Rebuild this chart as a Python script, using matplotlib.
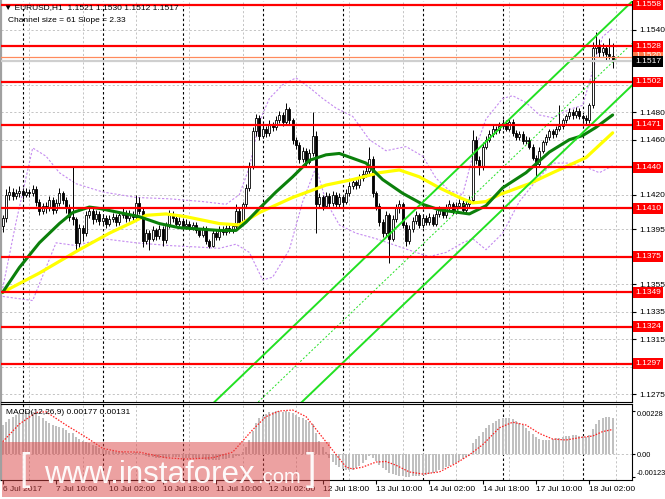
import matplotlib
matplotlib.use('Agg')
import matplotlib.pyplot as plt
import matplotlib.transforms as mtransforms
from matplotlib.patches import Rectangle
import numpy as np

plt.rcParams['font.family'] = ['Liberation Sans', 'DejaVu Sans']
plt.rcParams['axes.unicode_minus'] = False

# ---------------- data (EURUSD H1) ----------------
opens = [
    1.1397, 1.1403, 1.1420, 1.1422, 1.1419, 1.1421, 1.1423, 1.1420, 1.1422, 1.1421,
    1.1424, 1.1415, 1.1408, 1.1412, 1.1410, 1.1416, 1.1409, 1.1414, 1.1421, 1.1416,
    1.1410, 1.1404, 1.1402, 1.1385, 1.1396, 1.1392, 1.1405, 1.1408, 1.1402, 1.1406,
    1.1401, 1.1403, 1.1399, 1.1402, 1.1404, 1.1400, 1.1405, 1.1407, 1.1403, 1.1406,
    1.1404, 1.1414, 1.1408, 1.1386, 1.1392, 1.1388, 1.1394, 1.1390, 1.1395, 1.1387,
    1.1398, 1.1406, 1.1403, 1.1399, 1.1401, 1.1397, 1.1399, 1.1396, 1.1398, 1.1394,
    1.1391, 1.1395, 1.1386, 1.1383, 1.1392, 1.1389, 1.1395, 1.1393, 1.1396, 1.1394,
    1.1397, 1.1408, 1.1400, 1.1413, 1.1425, 1.1441, 1.1466, 1.1476, 1.1463, 1.1468,
    1.1465, 1.1471, 1.1469, 1.1474, 1.1478, 1.1473, 1.1482, 1.1474, 1.1460, 1.1456,
    1.1446, 1.1452, 1.1444, 1.1450, 1.1463, 1.1413, 1.1418, 1.1412, 1.1419, 1.1414,
    1.1420, 1.1413, 1.1418, 1.1415, 1.1421, 1.1426, 1.1429, 1.1427, 1.1432, 1.1435,
    1.1437, 1.1446, 1.1421, 1.1412, 1.1400, 1.1392, 1.1405, 1.1388, 1.1402, 1.1410,
    1.1413, 1.1398, 1.1386, 1.1395, 1.1401, 1.1405, 1.1398, 1.1403, 1.1400, 1.1404,
    1.1399, 1.1406, 1.1409, 1.1405, 1.1410, 1.1413, 1.1408, 1.1412, 1.1414, 1.1409,
    1.1413, 1.1416, 1.1460, 1.1445, 1.1440, 1.1455, 1.1460, 1.1464, 1.1468, 1.1467,
    1.1470, 1.1472, 1.1468, 1.1473, 1.1465, 1.1462, 1.1464, 1.1459, 1.1460, 1.1455,
    1.1447, 1.1442, 1.1452, 1.1458, 1.1462, 1.1466, 1.1464, 1.1468, 1.1470, 1.1474,
    1.1477, 1.1480, 1.1478, 1.1481, 1.1477, 1.1476, 1.1474, 1.1485, 1.1527, 1.1529,
    1.1524, 1.1527, 1.1522, 1.1521,
]
highs = [
    1.1405, 1.1424, 1.1426, 1.1425, 1.1424, 1.1426, 1.1425, 1.1425, 1.1424, 1.1427,
    1.1426, 1.1417, 1.1414, 1.1415, 1.1419, 1.1418, 1.1417, 1.1425, 1.1423, 1.1418,
    1.1413, 1.1440, 1.1404, 1.1399, 1.1398, 1.1408, 1.1411, 1.1410, 1.1409, 1.1408,
    1.1406, 1.1405, 1.1405, 1.1407, 1.1406, 1.1408, 1.1410, 1.1409, 1.1409, 1.1408,
    1.1420, 1.1418, 1.1410, 1.1395, 1.1394, 1.1397, 1.1396, 1.1398, 1.1397, 1.1400,
    1.1409, 1.1408, 1.1405, 1.1404, 1.1403, 1.1402, 1.1401, 1.1400, 1.1400, 1.1396,
    1.1397, 1.1397, 1.1388, 1.1394, 1.1394, 1.1397, 1.1397, 1.1398, 1.1398, 1.1399,
    1.1413, 1.1410, 1.1415, 1.1428, 1.1444, 1.1469, 1.1479, 1.1478, 1.1471, 1.1470,
    1.1474, 1.1473, 1.1477, 1.1481, 1.1480, 1.1487, 1.1484, 1.1476, 1.1462, 1.1458,
    1.1455, 1.1454, 1.1453, 1.1480, 1.1466, 1.1421, 1.1420, 1.1422, 1.1421, 1.1423,
    1.1422, 1.1421, 1.1420, 1.1424, 1.1429, 1.1432, 1.1431, 1.1435, 1.1438, 1.1440,
    1.1455, 1.1448, 1.1423, 1.1414, 1.1402, 1.1408, 1.1407, 1.1405, 1.1413, 1.1416,
    1.1415, 1.1400, 1.1398, 1.1404, 1.1408, 1.1407, 1.1406, 1.1405, 1.1407, 1.1406,
    1.1409, 1.1412, 1.1411, 1.1413, 1.1416, 1.1415, 1.1415, 1.1417, 1.1416, 1.1416,
    1.1419, 1.1467, 1.1463, 1.1448, 1.1458, 1.1463, 1.1467, 1.1471, 1.1470, 1.1473,
    1.1475, 1.1474, 1.1476, 1.1475, 1.1467, 1.1466, 1.1466, 1.1463, 1.1462, 1.1457,
    1.1449, 1.1455, 1.1460, 1.1464, 1.1468, 1.1468, 1.1470, 1.1485, 1.1476, 1.1479,
    1.1483, 1.1482, 1.1484, 1.1483, 1.1479, 1.1478, 1.1487, 1.1531, 1.1538, 1.1533,
    1.1530, 1.1529, 1.1534, 1.1530,
]
lows = [
    1.1393, 1.1400, 1.1416, 1.1416, 1.1417, 1.1418, 1.1417, 1.1418, 1.1418, 1.1419,
    1.1412, 1.1405, 1.1406, 1.1407, 1.1408, 1.1406, 1.1407, 1.1412, 1.1413, 1.1407,
    1.1401, 1.1398, 1.1378, 1.1382, 1.1386, 1.1390, 1.1403, 1.1399, 1.1400, 1.1398,
    1.1399, 1.1396, 1.1397, 1.1400, 1.1397, 1.1398, 1.1403, 1.1400, 1.1401, 1.1401,
    1.1402, 1.1406, 1.1382, 1.1384, 1.1380, 1.1386, 1.1387, 1.1388, 1.1383, 1.1385,
    1.1396, 1.1400, 1.1397, 1.1397, 1.1395, 1.1395, 1.1394, 1.1394, 1.1392, 1.1389,
    1.1389, 1.1384, 1.1381, 1.1382, 1.1387, 1.1387, 1.1391, 1.1391, 1.1392, 1.1392,
    1.1395, 1.1398, 1.1398, 1.1411, 1.1423, 1.1439, 1.1463, 1.1460, 1.1461, 1.1462,
    1.1463, 1.1466, 1.1467, 1.1472, 1.1470, 1.1471, 1.1471, 1.1457, 1.1453, 1.1443,
    1.1444, 1.1441, 1.1442, 1.1448, 1.1392, 1.1410, 1.1409, 1.1410, 1.1411, 1.1412,
    1.1410, 1.1411, 1.1412, 1.1413, 1.1419, 1.1424, 1.1424, 1.1425, 1.1430, 1.1433,
    1.1435, 1.1418, 1.1409, 1.1397, 1.1389, 1.1390, 1.1370, 1.1386, 1.1400, 1.1407,
    1.1396, 1.1383, 1.1384, 1.1393, 1.1399, 1.1396, 1.1396, 1.1398, 1.1398, 1.1397,
    1.1397, 1.1404, 1.1403, 1.1403, 1.1408, 1.1406, 1.1406, 1.1410, 1.1407, 1.1407,
    1.1411, 1.1414, 1.1442, 1.1434, 1.1438, 1.1453, 1.1458, 1.1462, 1.1464, 1.1465,
    1.1468, 1.1466, 1.1466, 1.1463, 1.1460, 1.1460, 1.1457, 1.1457, 1.1453, 1.1445,
    1.1433, 1.1440, 1.1450, 1.1456, 1.1460, 1.1461, 1.1462, 1.1466, 1.1468, 1.1472,
    1.1475, 1.1475, 1.1476, 1.1475, 1.1473, 1.1471, 1.1472, 1.1483, 1.1522, 1.1520,
    1.1521, 1.1518, 1.1519, 1.1512,
]
closes = [
    1.1403, 1.1420, 1.1422, 1.1419, 1.1421, 1.1423, 1.1420, 1.1422, 1.1421, 1.1424,
    1.1415, 1.1408, 1.1412, 1.1410, 1.1416, 1.1409, 1.1414, 1.1421, 1.1416, 1.1410,
    1.1404, 1.1402, 1.1385, 1.1396, 1.1392, 1.1405, 1.1408, 1.1402, 1.1406, 1.1401,
    1.1403, 1.1399, 1.1402, 1.1404, 1.1400, 1.1405, 1.1407, 1.1403, 1.1406, 1.1404,
    1.1414, 1.1408, 1.1386, 1.1392, 1.1388, 1.1394, 1.1390, 1.1395, 1.1387, 1.1398,
    1.1406, 1.1403, 1.1399, 1.1401, 1.1397, 1.1399, 1.1396, 1.1398, 1.1394, 1.1391,
    1.1395, 1.1386, 1.1383, 1.1392, 1.1389, 1.1395, 1.1393, 1.1396, 1.1394, 1.1397,
    1.1408, 1.1400, 1.1413, 1.1425, 1.1441, 1.1466, 1.1476, 1.1463, 1.1468, 1.1465,
    1.1471, 1.1469, 1.1474, 1.1478, 1.1473, 1.1482, 1.1474, 1.1460, 1.1456, 1.1446,
    1.1452, 1.1444, 1.1450, 1.1463, 1.1413, 1.1418, 1.1412, 1.1419, 1.1414, 1.1420,
    1.1413, 1.1418, 1.1415, 1.1421, 1.1426, 1.1429, 1.1427, 1.1432, 1.1435, 1.1437,
    1.1446, 1.1421, 1.1412, 1.1400, 1.1392, 1.1405, 1.1388, 1.1402, 1.1410, 1.1413,
    1.1398, 1.1386, 1.1395, 1.1401, 1.1405, 1.1398, 1.1403, 1.1400, 1.1404, 1.1399,
    1.1406, 1.1409, 1.1405, 1.1410, 1.1413, 1.1408, 1.1412, 1.1414, 1.1409, 1.1413,
    1.1416, 1.1460, 1.1445, 1.1440, 1.1455, 1.1460, 1.1464, 1.1468, 1.1467, 1.1470,
    1.1472, 1.1468, 1.1473, 1.1465, 1.1462, 1.1464, 1.1459, 1.1460, 1.1455, 1.1447,
    1.1442, 1.1452, 1.1458, 1.1462, 1.1466, 1.1464, 1.1468, 1.1470, 1.1474, 1.1477,
    1.1480, 1.1478, 1.1481, 1.1477, 1.1476, 1.1474, 1.1485, 1.1527, 1.1529, 1.1524,
    1.1527, 1.1522, 1.1521, 1.1517,
]

# moving averages (read at sample bars)
green_ma_bars = [0, 5, 11, 17, 21, 26, 29, 35, 41, 47, 53, 59, 65, 70, 73, 77, 82, 87, 92,
                 97, 101, 109, 114, 120, 126, 131, 137, 140, 145, 150, 157, 164, 170, 174, 178, 183]
green_ma_vals = [1.1349, 1.1367, 1.1385, 1.1399, 1.1407, 1.1411, 1.1410, 1.1407, 1.1404, 1.1399,
                 1.1396, 1.1395, 1.1394, 1.1394, 1.1400, 1.1410, 1.1422, 1.1433, 1.1445,
                 1.1449, 1.1450, 1.1443, 1.1431, 1.1421, 1.1413, 1.1409, 1.1407, 1.1406, 1.1412,
                 1.1425, 1.1436, 1.1451, 1.1460, 1.1463, 1.1469, 1.1478]
yellow_ma_bars = [0, 11, 23, 32, 39, 43, 49, 55, 65, 71, 77, 87, 97, 105, 113, 119, 125, 131,
                  137, 141, 145, 149, 158, 165, 175, 183]
yellow_ma_vals = [1.1349, 1.1363, 1.1380, 1.1392, 1.1400, 1.1405, 1.1406, 1.1404, 1.1399, 1.1398,
                  1.1407, 1.1418, 1.1427, 1.1431, 1.1436, 1.1438, 1.1433, 1.1425, 1.1418, 1.1414,
                  1.1415, 1.1420, 1.1428, 1.1436, 1.1447, 1.1465]

# Bollinger bands (read at sample bars)
bb_up_bars = [0, 4, 9, 13, 17, 22, 30, 40, 50, 60, 67, 71, 74, 77, 80, 84, 88, 92, 96, 100,
              105, 110, 115, 121, 126, 130, 134, 138, 141, 145, 150, 153, 157, 161, 165, 170,
              174, 177, 180, 183]
bb_up_vals = [1.1352, 1.1400, 1.1454, 1.1448, 1.1436, 1.1428, 1.1422, 1.1418, 1.1417, 1.1415,
              1.1413, 1.1420, 1.1440, 1.1473, 1.1490, 1.1500, 1.1505, 1.1498, 1.1490, 1.1483,
              1.1477, 1.1460, 1.1452, 1.1455, 1.1448, 1.1432, 1.1423, 1.1420, 1.1448, 1.1475,
              1.1490, 1.1492, 1.1487, 1.1478, 1.1476, 1.1482, 1.1485, 1.1510, 1.1535, 1.1541]
bb_lo_bars = [0, 9, 16, 22, 30, 40, 50, 58, 65, 70, 74, 78, 81, 86, 90, 94, 97, 101, 106, 112,
              118, 124, 128, 133, 138, 141, 145, 150, 155, 160, 165, 170, 175, 179, 183]
bb_lo_vals = [1.1346, 1.1343, 1.1385, 1.1383, 1.1388, 1.1385, 1.1383, 1.1382, 1.1381, 1.1384,
              1.1378, 1.1358, 1.1360, 1.1380, 1.1415, 1.1440, 1.1415, 1.1398, 1.1392, 1.1388,
              1.1383, 1.1378, 1.1375, 1.1378, 1.1385, 1.1388, 1.1380, 1.1392, 1.1415, 1.1430,
              1.1443, 1.1443, 1.1440, 1.1436, 1.1441]

# equidistant channel: lower line anchors, width in price
channel_bars = [100, 183]
channel_lower = [1.1293, 1.1486]
channel_width = 0.0061

# horizontal support / resistance levels
levels = [1.1558, 1.1528, 1.1502, 1.1471, 1.1440, 1.1410, 1.1375, 1.1349, 1.1324, 1.1297]
last_price = 1.1517
ask_price = 1.1520

price_ticks = [1.1540, 1.1520, 1.1500, 1.1480, 1.1460, 1.1440, 1.1420, 1.1395, 1.1375,
               1.1355, 1.1335, 1.1315, 1.1295, 1.1275]
hidden_tick_labels = [1.1520, 1.1500, 1.1440, 1.1375, 1.1295]

# MACD histogram (one per bar) and signal (sample bars)
macd_hist = [
    0.00155, 0.00172, 0.00188, 0.00200, 0.00210, 0.00218, 0.00224, 0.00228, 0.00228, 0.00224,
    0.00215, 0.00202, 0.00190, 0.00178, 0.00166, 0.00156, 0.00148, 0.00142, 0.00138, 0.00128,
    0.00115, 0.00110, 0.00092, 0.00082, 0.00072, 0.00066, 0.00060, 0.00050, 0.00042, 0.00034,
    0.00026, 0.00020, 0.00016, 0.00014, 0.00012, 0.00010, 0.00010, 0.00008, 0.00008, 0.00006,
    0.00010, 0.00008, -0.00004, -0.00008, -0.00014, -0.00016, -0.00020, -0.00020, -0.00024, -0.00020,
    -0.00016, -0.00016, -0.00018, -0.00018, -0.00020, -0.00020, -0.00022, -0.00022, -0.00024, -0.00026,
    -0.00026, -0.00030, -0.00034, -0.00032, -0.00032, -0.00030, -0.00028, -0.00026, -0.00024, -0.00020,
    -0.00010, -0.00008, 0.00010, 0.00040, 0.00075, 0.00125, 0.00166, 0.00190, 0.00205, 0.00216,
    0.00222, 0.00226, 0.00228, 0.00228, 0.00227, 0.00228, 0.00225, 0.00218, 0.00210, 0.00200,
    0.00190, 0.00180, 0.00170, 0.00162, 0.00110, 0.00072, 0.00040, 0.00010, -0.00020, -0.00045,
    -0.00060, -0.00072, -0.00080, -0.00086, -0.00088, -0.00085, -0.00076, -0.00062, -0.00048, -0.00032,
    -0.00012, -0.00020, -0.00040, -0.00058, -0.00075, -0.00088, -0.00100, -0.00108, -0.00112, -0.00116,
    -0.00120, -0.00123, -0.00122, -0.00120, -0.00118, -0.00116, -0.00114, -0.00110, -0.00106, -0.00100,
    -0.00094, -0.00086, -0.00078, -0.00070, -0.00062, -0.00054, -0.00046, -0.00036, -0.00028, -0.00018,
    -0.00008, 0.00060, 0.00080, 0.00095, 0.00120, 0.00140, 0.00155, 0.00168, 0.00178, 0.00185,
    0.00190, 0.00192, 0.00194, 0.00188, 0.00178, 0.00168, 0.00155, 0.00140, 0.00125, 0.00108,
    0.00090, 0.00080, 0.00075, 0.00074, 0.00076, 0.00080, 0.00084, 0.00088, 0.00090, 0.00094,
    0.00098, 0.00100, 0.00100, 0.00096, 0.00094, 0.00092, 0.00100, 0.00135, 0.00160, 0.00180,
    0.00192, 0.00200, 0.00198, 0.00190,
]
signal_bars = [0, 5, 10, 13, 19, 25, 30, 35, 41, 49, 55, 63, 69, 75, 79, 83, 87, 91, 95, 99,
               103, 105, 108, 112, 115, 118, 122, 126, 131, 136, 140, 144, 149, 153, 157, 161,
               165, 169, 174, 177, 180, 183]
signal_vals = [0.00066, 0.00160, 0.00222, 0.00226, 0.00155, 0.00090, 0.00030, 0.00012, 0.00010,
               -0.00020, -0.00027, -0.00020, 0.00010, 0.00130, 0.00200, 0.00230, 0.00235, 0.00200,
               0.00110, 0.00020, -0.00070, -0.00080, -0.00070, -0.00043, -0.00040, -0.00060,
               -0.00096, -0.00107, -0.00096, -0.00050, -0.00005, 0.00050, 0.00140, 0.00170,
               0.00155, 0.00110, 0.00080, 0.00075, 0.00090, 0.00096, 0.00120, 0.00131]

x_label_bars = [0, 16, 32, 48, 64, 80, 96, 112, 128, 144, 160, 176]
x_labels = ['6 Jul 2017', '7 Jul 10:00', '10 Jul 02:00', '10 Jul 18:00', '11 Jul 10:00',
            '12 Jul 02:00', '12 Jul 18:00', '13 Jul 10:00', '14 Jul 02:00', '14 Jul 18:00',
            '17 Jul 10:00', '18 Jul 02:00']
day_separator_bars = [6, 30, 54, 78, 102, 126, 150, 174]

# ---------------- figure ----------------
W, H = 665, 499
fig = plt.figure(figsize=(W / 100, H / 100), dpi=100)
fig.patch.set_facecolor('white')


def fx(px):
    return px / W


def fy(py):
    return 1 - py / H


ax = fig.add_axes([fx(1), fy(402), fx(632) - fx(1), fy(1) - fy(402)])
ax2 = fig.add_axes([fx(1), fy(480), fx(632) - fx(1), fy(404) - fy(480)], sharex=ax)

n = len(closes)
xb = np.arange(n)
o = np.array(opens)
h = np.array(highs)
l = np.array(lows)
c = np.array(closes)

GRID = '#c4c4c4'
dash = (0, (2.2, 2.2))
FS = 6

for a in (ax, ax2):
    a.set_facecolor('white')
    a.set_xlim(-0.51, 188.8)
    a.set_xticks(np.arange(0, 189, 8), minor=True)
    a.grid(which='minor', axis='x', color=GRID, linestyle=dash, linewidth=0.7, zorder=0)
    for b in day_separator_bars:
        a.axvline(b, color='black', linestyle=dash, linewidth=0.8, zorder=1)
    a.spines['top'].set_visible(False)
    a.spines['left'].set_color('#a0a0a0')
    a.spines['left'].set_linewidth(1.6)
    a.spines['right'].set_color('black')
    a.spines['bottom'].set_color('black')

# ---- main price panel ----
ax.set_ylim(1.12692, 1.15609)
ax.set_yticks(price_ticks)
ax.yaxis.tick_right()
ax.set_yticklabels(['' if v in hidden_tick_labels else '%.4f' % v for v in price_ticks])
ax.tick_params(axis='y', which='major', labelsize=FS, length=3, pad=2, colors='black',
               direction='out')
ax.grid(which='major', axis='y', color=GRID, linestyle=dash, linewidth=0.7, zorder=0)
ax.tick_params(axis='x', which='both', length=0, labelbottom=False)

# Bollinger bands
ax.plot(bb_up_bars, bb_up_vals, color='#c58bf0', linestyle=(0, (2, 1.6)), linewidth=0.8, zorder=2)
ax.plot(bb_lo_bars, bb_lo_vals, color='#c58bf0', linestyle=(0, (2, 1.6)), linewidth=0.8, zorder=2)

# candles
ax.vlines(xb, l, h, color='black', linewidth=0.7, zorder=3)
up = c >= o
ax.bar(xb[up], (c - o)[up], bottom=o[up], width=0.62, color='white', edgecolor='black',
       linewidth=0.6, zorder=4)
ax.bar(xb[~up], (c - o)[~up], bottom=o[~up], width=0.62, color='black', edgecolor='black',
       linewidth=0.6, zorder=4)

# moving averages
ax.plot(yellow_ma_bars, yellow_ma_vals, color='#ffff00', linewidth=2.3, zorder=5,
        solid_capstyle='round')
ax.plot(green_ma_bars, green_ma_vals, color='#0b800b', linewidth=2.2, zorder=5,
        solid_capstyle='round')

# channel
p0 = (channel_bars[0], channel_lower[0])
p1 = (channel_bars[1], channel_lower[1])
ax.axline(p0, p1, color='#22e022', linewidth=1.4, zorder=6)
ax.axline((p0[0], p0[1] + channel_width), (p1[0], p1[1] + channel_width),
          color='#22e022', linewidth=1.4, zorder=6)
ax.axline((p0[0], p0[1] + channel_width / 2), (p1[0], p1[1] + channel_width / 2),
          color='#22e022', linewidth=0.7, linestyle=(0, (2, 2)), zorder=6)

# current price lines
ax.axhline(last_price, color='#cfcfcf', linewidth=1.6, zorder=6)
ax.axhline(ask_price, color='#ff8a5c', linewidth=0.9, zorder=6)

# red levels
for lv in levels:
    ax.axhline(lv, color='#ff0000', linewidth=1.6, zorder=7)

trans = mtransforms.blended_transform_factory(ax.transAxes, ax.transData)
lab_x = 1.0 + 3.0 / 631
box = 'square,pad=0.22'
ax.text(lab_x, ask_price + 0.00012, '%.4f' % ask_price, transform=trans, ha='left',
        va='center', color='white', fontsize=FS, zorder=20, clip_on=False,
        bbox=dict(boxstyle=box, fc='#ff7a4a', ec='none'))
ax.text(lab_x, last_price, '%.4f' % last_price, transform=trans, ha='left', va='center',
        color='white', fontsize=FS, zorder=21, clip_on=False,
        bbox=dict(boxstyle=box, fc='black', ec='none'))
for lv in levels:
    ax.text(lab_x, lv, '%.4f' % lv, transform=trans, ha='left', va='center',
            color='white', fontsize=FS, zorder=22, clip_on=False,
            bbox=dict(boxstyle=box, fc='#ff0000', ec='none'))

# ---- MACD panel ----
ax2.set_ylim(-0.00139, 0.002674)
ax2.bar(xb, macd_hist, width=0.62, color='#c0c0c0', edgecolor='none', zorder=2)
ax2.plot(signal_bars, signal_vals, color='#ff2020', linestyle=(0, (1.2, 1.2)),
         linewidth=0.9, zorder=3)
ax2.axhline(0, color=GRID, linestyle=dash, linewidth=0.7, zorder=1)
ax2.yaxis.tick_right()
ax2.set_yticks([0.00228, 0.0, -0.00123])
ax2.set_yticklabels(['0.00228', '0.00', '-0.00123'])
ax2.tick_params(axis='y', labelsize=5.3, length=2.5, pad=1.2, colors='black')
ax2.get_yticklabels()[0].set_va('top')
ax2.get_yticklabels()[2].set_va('bottom')
ax2.spines['top'].set_visible(True)
ax2.spines['top'].set_color('black')
ax2.set_xticks(x_label_bars)
ax2.set_xticklabels(x_labels, ha='left')
ax2.tick_params(axis='x', which='major', labelsize=FS, length=3, pad=1.5, colors='black')
ax2.tick_params(axis='x', which='minor', length=0)
ax2.text(0.008, 0.93, 'MACD(12,26,9) 0.00177 0.00131', transform=ax2.transAxes,
         fontsize=FS, ha='left', va='top', color='black', zorder=10)

# header texts
fig.text(fx(4), fy(8), '\u25bc EURUSD,H1  1.1521 1.1530 1.1512 1.1517', fontsize=FS,
         ha='left', va='center', color='black',
         family=['Liberation Sans', 'DejaVu Sans'])
fig.text(fx(8), fy(20), 'Channel size = 61 Slope = 2.33', fontsize=FS, ha='left',
         va='center', color='black')

# watermark
fig.add_artist(Rectangle((fx(2), fy(497)), fx(330) - fx(2), fy(442) - fy(497),
                         transform=fig.transFigure, facecolor=(0.86, 0.27, 0.27),
                         alpha=0.5, edgecolor='none', zorder=30))
fig.text(fx(19), fy(470), '[', fontsize=27, color='white', ha='left', va='center',
         zorder=31, alpha=0.95)
fig.text(fx(44), fy(483), 'www.instaforex', fontsize=22.5, color='white', ha='left',
         va='baseline', zorder=31, alpha=0.95)
fig.text(fx(257), fy(483), '.com', fontsize=14.5, color='white', ha='left',
         va='baseline', zorder=31, alpha=0.95)
fig.text(fx(306), fy(470), ']', fontsize=27, color='white', ha='left', va='center',
         zorder=31, alpha=0.95)

fig.savefig('out.png', dpi=100, facecolor='white')
